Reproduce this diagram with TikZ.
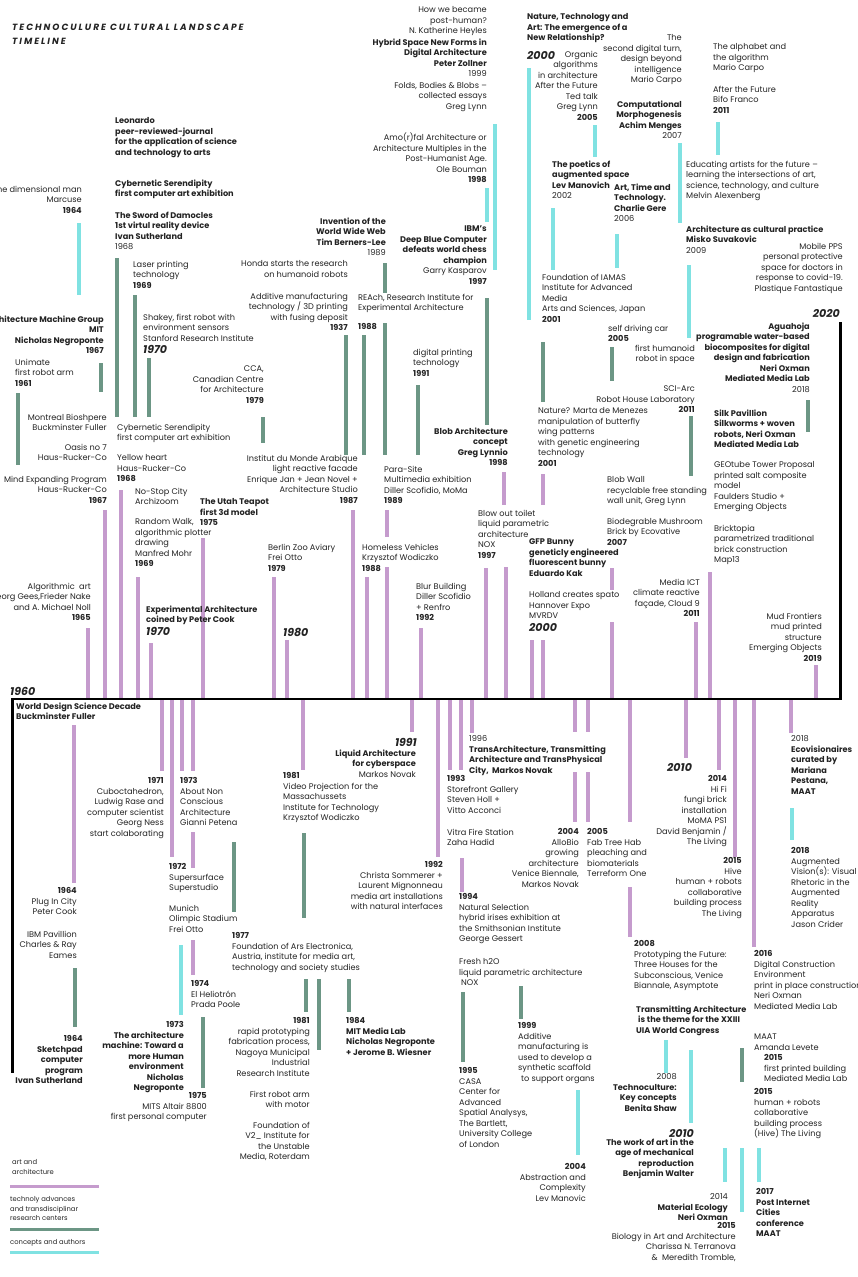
\documentclass[tikz,border=0pt]{standalone}
\usepackage{fontspec}
\setmainfont{Poppins}
\newfontfamily\titlefont[LetterSpace=22]{Poppins}
\definecolor{artc}{RGB}{197,155,205}
\definecolor{techc}{RGB}{108,150,133}
\definecolor{ideac}{RGB}{128,226,226}
\definecolor{ink}{RGB}{35,35,35}
\newcommand\evtext{\fontsize{8.2}{10.5}\selectfont}
\newcommand\yearfont{\fontsize{11}{12}\selectfont\bfseries\itshape}
\begin{document}
\begin{tikzpicture}[x=1pt, y=-1pt,
    lbl/.style={anchor=north west, yshift=7.35pt, align=left, inner sep=0pt, text=ink, font=\evtext, execute at begin node=\strut},
    rlbl/.style={anchor=north east, yshift=7.35pt, align=right, inner sep=0pt, text=ink, font=\evtext, execute at begin node=\strut},
    heavy/.style={font=\evtext\bfseries},
    yr/.style={inner sep=0pt, text=ink, font=\yearfont},
    art/.style={draw=artc, line width=3.6pt},
    tech/.style={draw=techc, line width=3.6pt},
    idea/.style={draw=ideac, line width=3.6pt},
    legendtxt/.style={anchor=north west, yshift=6.65pt, align=left, inner sep=0pt, text=ink, font=\fontsize{6.8}{9.5}\selectfont, execute at begin node=\strut},
  ]
    \useasboundingbox (0,0) rectangle (857,1277);

    % Title
    \node[anchor=base west, align=left, inner sep=0pt, text=ink, font=\titlefont\fontsize{9}{14}\selectfont\bfseries\itshape] (title) at (12,30) {TECHNOCULURE CULTURAL LANDSCAPE};
    \node[anchor=base west, inner sep=0pt, text=ink, font=\titlefont\fontsize{9}{14}\selectfont\bfseries\itshape] (title2) at (12,44) {TIMELINE};

    % Bars: art and architecture
    \foreach \x/\a/\b in {88/628/699, 105/510/699, 121/490/699, 138/577/699, 151/643/699, 203/538/699,
        274/577/699, 287/640/699, 353/510/699, 367/577/699, 387/510/537, 387/567/699, 421/628/699,
        504/472/505, 486/568/699, 506/567/699, 543/474/505, 532/640/699, 543/640/699, 612/568/590,
        612/622/699, 696/622/699, 710/572/699, 816/665/699,
        74/725/883, 162/699/771, 172/699/857, 182/699/771, 193/699/771, 193/832/868, 193/940/975,
        303/699/770, 412/699/732, 438/699/857, 450/699/770, 461/699/770, 462/858/892, 472/699/733,
        575/699/732, 575/772/822, 588/699/732, 588/772/822, 630/699/822, 630/887/937, 686/699/758,
        719/699/770, 735/699/857, 754/699/947, 791/699/733}
      \draw[art] (\x,\a) -- (\x,\b);

    % Bars: technology advances and research centers
    \foreach \x/\a/\b in {117/258/417, 135/295/417, 149/358/417, 101/363/392, 18/393/465, 263/417/443,
        346/335/455, 364/335/455, 385/263/293, 385/323/455, 418/385/455, 487/298/425, 543/342/402,
        612/347/381, 691/416/476, 808/400/432, 304/833/918, 234/842/912, 75/968/1027, 203/1017/1088,
        306/979/1012, 319/979/1050, 349/979/1012, 463/992/1062, 521/986/1019, 742/1048/1082}
      \draw[tech] (\x,\a) -- (\x,\b);

    % Bars: concepts and authors
    \foreach \x/\a/\b in {79/223/295, 495/124/270, 487/188/222, 529/68/320, 553/208/270, 595/125/157,
        617/234/268, 680/143/223, 718/122/155, 689/265/338, 792/808/840, 181/945/1015, 578/1090/1155,
        666/1040/1073, 691/1050/1123, 725/1148/1182, 742/1148/1212, 759/1148/1182}
      \draw[idea] (\x,\a) -- (\x,\b);

    % Time axis
    \coordinate (axisL) at (12,699);
    \coordinate (axisR) at (840,699);
    \coordinate (startEnd) at (12,1073);
    \coordinate (endTop) at (840,322);
    \draw[line width=1.3pt] (axisL) -- (axisR);
    \draw[line width=3pt] ([yshift=0.6pt]axisL) -- (startEnd);
    \draw[line width=3pt] ([yshift=-0.6pt]axisR) -- (endTop);
    \node[yr, anchor=base west] (y1960) at (10,695) {1960};
    \node[yr, anchor=base east] (y2020) at (840,317) {2020};

    % Above the axis, 1960s-1970s
    \node[rlbl] (marcuse) at (82,193) {one dimensional man\\Marcuse\\\textbf{1964}};
    \node[rlbl, heavy] (archmg) at (104,323) {Architecture Machine Group\\MIT\\Nicholas Negroponte\\1967};
    \node[lbl] (unimate) at (15,366) {Unimate\\first robot arm\\\textbf{1961}};
    \node[rlbl] (montreal) at (107,421) {Montreal Bioshpere\\Buckminster Fuller};
    \node[rlbl] (oasis) at (107,451) {Oasis no 7\\Haus-Rucker-Co};
    \node[rlbl] (mindexp) at (107,483) {Mind Expanding Program\\Haus-Rucker-Co\\\textbf{1967}};
    \node[rlbl] (algoart) at (91,590) {Algorithmic~~art\\Georg Gees,Frieder Nake\\and A. Michael Noll\\\textbf{1965}};
    \node[lbl, heavy] (leonardo) at (115,125) {Leonardo\\peer-reviewed-journal\\for the application of science\\and technology to arts};
    \node[lbl, heavy] (cybser1) at (115,187) {Cybernetic Serendipity\\first computer art exhibition};
    \node[lbl, heavy] (sword) at (115,219) {The Sword of Damocles\\1st virtul reality device\\Ivan Sutherland\\{\mdseries 1968}};
    \node[lbl] (laser) at (133,268) {Laser printing\\technology\\\textbf{1969}};
    \node[lbl] (shakey) at (143,321) {Shakey, first robot with\\environment sensors\\Stanford Research Institute\\[2pt]{\yearfont 1970}};
    \node[lbl] (cybser2) at (117,431) {Cybernetic Serendipity\\first computer art exhibition};
    \node[lbl] (yellow) at (117,462) {Yellow heart\\Haus-Rucker-Co\\\textbf{1968}};
    \node[lbl] (nostop) at (135,495) {No-Stop City\\Archizoom};
    \node[lbl] (randwalk) at (135,526) {Random Walk,\\algorithmic plotter\\drawing\\Manfred Mohr\\\textbf{1969}};
    \node[lbl, heavy] (teapot) at (200,506) {The Utah Teapot\\first 3d model\\1975};
    \node[lbl, heavy] (exparch) at (146,613) {Experimental Architecture\\coined by Peter Cook\\[2pt]{\yearfont 1970}};
    \node[rlbl] (cca) at (264,373) {CCA,\\Canadian Centre\\for Architecture\\\textbf{1979}};

    % Above the axis, 1980s-1990s
    \node[rlbl] (imarabe) at (358,462) {Institut du Monde Arabique\\light reactive facade\\Enrique Jan + Jean Novel +\\Architecture Studio\\\textbf{1987}};
    \node[lbl] (berlin) at (268,551) {Berlin Zoo Aviary\\Frei Otto\\\textbf{1979}};
    \node[yr, anchor=base west] (y1980) at (283,636) {1980};
    \node[rlbl] (honda) at (348,268) {Honda starts the research\\on humanoid robots};
    \node[rlbl] (additive) at (348,300) {Additive manufacturing\\technology / 3D printing\\with fusing deposit\\\textbf{1937}};
    \node[rlbl, heavy] (www) at (386,225) {Invention of the\\World Wide Web\\Tim Berners-Lee\\{\mdseries 1989}};
    \node[lbl] (reach) at (358,301) {REAch, Research Institute for\\Experimental Architecture\\[8pt]\textbf{1988}};
    \node[lbl] (digprint) at (413,356) {digital printing\\technology\\\textbf{1991}};
    \node[lbl] (parasite) at (384,473) {Para-Site\\Multimedia exhibition\\Diller Scofidio, MoMa\\\textbf{1989}};
    \node[lbl] (homeless) at (362,551) {Homeless Vehicles\\Krzysztof Wodiczko\\\textbf{1988}};
    \node[lbl] (blur) at (416,590) {Blur Building\\Diller Scofidio\\+ Renfro\\\textbf{1992}};
    \node[rlbl] (heyles) at (487,14) {How we became\\post-human?\\N. Katherine Heyles};
    \node[rlbl, heavy] (hybrid) at (487,46) {Hybrid Space New Forms in\\Digital Architecture\\Peter Zollner\\{\mdseries 1999}};
    \node[rlbl] (folds) at (487,89) {Folds, Bodies \& Blobs –\\collected essays\\Greg Lynn};
    \node[rlbl] (amorfal) at (487,140) {Amo(r)fal Architecture or\\Architecture Multiples in the\\Post-Humanist Age.\\Ole Bouman\\\textbf{1998}};
    \node[rlbl] (ibm) at (487,233) {\textbf{IBM's}\\\textbf{Deep Blue Computer}\\\textbf{defeats world chess}\\\textbf{champion}\\Garry Kasparov\\\textbf{1997}};
    \node[rlbl, heavy] (blobarch) at (508,435) {Blob Architecture\\concept\\Greg Lynnio\\1998};
    \node[lbl] (blowout) at (478,517) {Blow out toilet\\liquid parametric\\architecture\\NOX\\\textbf{1997}};

    % Above the axis, 2000s-2010s
    \node[lbl, heavy] (nature) at (527,21) {Nature, Technology and\\Art: The emergence of a\\New Relationship?};
    \node[yr, anchor=base west] (y2000a) at (527,59) {2000};
    \node[rlbl] (organic) at (598,58) {Organic\\algorithms\\in architecture\\After the Future\\Ted talk\\Greg Lynn\\\textbf{2005}};
    \node[lbl, heavy] (poetics) at (552,168) {The poetics of\\augmented space\\Lev Manovich\\{\mdseries 2002}};
    \node[lbl] (iamas) at (542,281) {Foundation of IAMAS\\Institute for Advanced\\Media\\Arts and Sciences, Japan\\\textbf{2001}};
    \node[lbl] (menezes) at (538,415) {Nature? Marta de Menezes\\manipulation of butterfly\\wing patterns\\with genetic engineering\\technology\\\textbf{2001}};
    \node[lbl, heavy] (gfp) at (529,546) {GFP Bunny\\geneticly engineered\\fluorescent bunny\\Eduardo Kak};
    \node[lbl] (holland) at (529,599) {Holland creates spato\\Hannover Expo\\MVRDV\\[2pt]{\yearfont 2000}};
    \node[rlbl] (carpo2) at (682,42) {The\\second digital turn,\\design beyond\\intelligence\\Mario Carpo};
    \node[rlbl, heavy] (menges) at (682,108) {Computational\\Morphogenesis\\Achim Menges\\{\mdseries 2007}};
    \node[lbl] (alphabet) at (713,51) {The alphabet and\\the algorithm\\Mario Carpo};
    \node[lbl] (bifo) at (713,93) {After the Future\\Bifo Franco\\\textbf{2011}};
    \node[lbl] (educating) at (686,168) {Educating artists for the future –\\learning the intersections of art,\\science, technology, and culture\\Melvin Alexenberg};
    \node[lbl, heavy] (gere) at (614,191) {Art, Time and\\Technology.\\Charlie Gere\\{\mdseries 2006}};
    \node[lbl] (suvakovic) at (686,233) {\textbf{Architecture as cultural practice}\\\textbf{Misko Suvakovic}\\2009};
    \node[rlbl] (mobile) at (843,250) {Mobile PPS\\personal protective\\space for doctors in\\response to covid-19.\\Plastique Fantastique};
    \node[lbl] (selfdrive) at (608,332) {self driving car\\\textbf{2005}};
    \node[rlbl] (humanoid) at (695,352) {first humanoid\\robot in space};
    \node[rlbl] (sciarc) at (695,393) {SCI-Arc\\Robot House Laboratory\\\textbf{2011}};
    \node[rlbl, heavy] (aguahoja) at (810,330) {Aguahoja\\programable water-based\\biocomposites for digital\\design and fabrication\\Neri Oxman\\Mediated Media Lab\\{\mdseries 2018}};
    \node[lbl, heavy] (silk) at (714,417) {Silk Pavillion\\Silkworms + woven\\robots, Neri Oxman\\Mediated Media Lab};
    \node[lbl] (geotube) at (714,469) {GEOtube Tower Proposal\\printed salt composite\\model\\Faulders Studio +\\Emerging Objects};
    \node[lbl] (blobwall) at (607,484) {Blob Wall\\recyclable free standing\\wall unit, Greg Lynn};
    \node[lbl] (mushroom) at (607,525) {Biodegrable Mushroom\\Brick by Ecovative\\\textbf{2007}};
    \node[lbl] (bricktopia) at (714,532) {Bricktopia\\parametrized traditional\\brick construction\\Map13};
    \node[rlbl] (mediaict) at (700,586) {Media ICT\\climate reactive\\façade, Cloud 9\\\textbf{2011}};
    \node[rlbl] (mud) at (822,620) {Mud Frontiers\\mud printed\\structure\\Emerging Objects\\\textbf{2019}};

    % Below the axis, 1960s-1980s
    \node[lbl, heavy] (wdsd) at (16,710) {World Design Science Decade\\Buckminster Fuller};
    \node[rlbl] (cubo) at (164,785) {\textbf{1971}\\Cuboctahedron,\\Ludwig Rase and\\computer scientist\\Georg Ness\\start colaborating};
    \node[lbl] (nonconscious) at (180,785) {\textbf{1973}\\About Non\\Conscious\\Architecture\\Gianni Petena};
    \node[lbl] (supersurf) at (169,871) {\textbf{1972}\\Supersurface\\Superstudio};
    \node[lbl] (munich) at (169,912) {Munich\\Olimpic Stadium\\Frei Otto};
    \node[rlbl] (plugin) at (77,895) {\textbf{1964}\\Plug In City\\Peter Cook};
    \node[rlbl] (ibmpav) at (77,938) {IBM Pavillion\\Charles \& Ray\\Eames};
    \node[lbl] (arselec) at (232,940) {\textbf{1977}\\Foundation of Ars Electronica,\\Austria, institute for media art,\\technology and society studies};
    \node[rlbl, heavy] (sketchpad) at (83,1043) {1964\\Sketchpad\\computer\\program\\Ivan Sutherland};
    \node[lbl] (heliotron) at (191,988) {\textbf{1974}\\El Heliotrón\\Prada Poole};
    \node[rlbl, heavy] (archmachine) at (184,1029) {1973\\The architecture\\machine: Toward a\\more Human\\environment\\Nicholas\\Negroponte};
    \node[rlbl] (altair) at (207,1100) {\textbf{1975}\\MITS Altair 8800\\first personal computer};
    \node[rlbl] (nagoya) at (310,1025) {\textbf{1981}\\rapid prototyping\\fabrication process,\\Nagoya Municipal\\Industrial\\Research Institute};
    \node[rlbl] (robotarm) at (310,1098) {First robot arm\\with motor};
    \node[rlbl] (v2) at (310,1129) {Foundation of\\V2\_ Institute for\\the Unstable\\Media, Roterdam};
    \node[lbl, heavy] (medialab) at (346,1025) {1984\\MIT Media Lab\\Nicholas Negroponte\\+ Jerome B. Wiesner};
    \node[lbl] (videoproj) at (283,780) {\textbf{1981}\\Video Projection for the\\Massachussets\\Institute for Technology\\Krzysztof Wodiczko};

    % Below the axis, 1990s-2000s
    \node[yr, anchor=base east] (y1991) at (417,746) {1991};
    \node[rlbl] (liquid) at (416,757) {\textbf{Liquid Architecture}\\\textbf{for cyberspace}\\Markos Novak};
    \node[lbl, heavy] (transarch) at (469,743) {{\mdseries 1996}\\TransArchitecture, Transmitting\\Architecture and TransPhysical\\City,~~Markos Novak};
    \node[lbl] (storefront) at (447,783) {\textbf{1993}\\Storefront Gallery\\Steven Holl +\\Vitto Acconci};
    \node[lbl] (vitra) at (447,836) {Vitra Fire Station\\Zaha Hadid};
    \node[rlbl] (sommerer) at (443,869) {\textbf{1992}\\Christa Sommerer +\\Laurent Mignonneau\\media art installations\\with natural interfaces};
    \node[lbl] (natsel) at (459,901) {\textbf{1994}\\Natural Selection\\hybrid irises exhibition at\\the Smithsonian Institute\\George Gessert};
    \node[lbl] (freshh2o) at (459,966) {Fresh h2O\\liquid parametric architecture\\\hspace{2pt}NOX};
    \node[lbl] (casa) at (459,1075) {\textbf{1995}\\CASA\\Center for\\Advanced\\Spatial Analysys,\\The Bartlett,\\University College\\of London};
    \node[lbl] (additive99) at (518,1030) {\textbf{1999}\\Additive\\manufacturing is\\used to develop a\\synthetic scaffold\\\hspace{3pt}to support organs};
    \node[rlbl] (manovic) at (586,1171) {\textbf{2004}\\Abstraction and\\Complexity\\Lev Manovic};
    \node[rlbl] (allobio) at (579,836) {\textbf{2004}\\AlloBio\\growing\\architecture\\Venice Biennale,\\Markos Novak};
    \node[lbl] (fabtree) at (587,836) {\textbf{2005}\\Fab Tree Hab\\pleaching and\\biomaterials\\Terreform One};

    % Below the axis, 2000s-2010s
    \node[yr, anchor=base west] (y2010a) at (667,771) {2010};
    \node[rlbl] (hifi) at (727,783) {\textbf{2014}\\Hi Fi\\fungi brick\\installation\\MoMA PS1\\David Benjamin /\\The Living};
    \node[rlbl] (hive) at (742,865) {\textbf{2015}\\Hive\\human + robots\\collaborative\\building process\\The Living};
    \node[lbl, heavy] (ecovis) at (791,743) {{\mdseries 2018}\\Ecovisionaires\\curated by\\Mariana\\Pestana,\\MAAT};
    \node[lbl] (augmented) at (791,855) {\textbf{2018}\\Augmented\\Vision(s): Visual\\Rhetoric in the\\Augmented\\Reality\\Apparatus\\Jason Crider};
    \node[lbl] (asymptote) at (634,948) {\textbf{2008}\\Prototyping the Future:\\Three Houses for the\\Subconscious, Venice\\Biannale, Asymptote};
    \node[lbl, heavy] (uia) at (636,1013) {Transmitting Architecture\\\hspace{2pt}is the theme for the XXIII\\UIA World Congress};
    \node[rlbl, heavy] (shaw) at (677,1081) {{\mdseries 2008}\\Technoculture:\\Key concepts\\Benita Shaw};
    \node[yr, anchor=base east] (y2010b) at (694,1137) {2010};
    \node[rlbl, heavy] (benjamin) at (694,1146) {The work of art in the\\age of mechanical\\reproduction\\Benjamin Walter};
    \node[rlbl, heavy] (matecol) at (728,1201) {{\mdseries 2014}\\Material Ecology\\Neri Oxman};
    \node[lbl, heavy] (postinternet) at (756,1196) {2017\\Post Internet\\Cities\\conference\\MAAT};
    \node[rlbl] (biology) at (736,1230) {\textbf{2015}\\Biology in Art and Architecture\\Charissa N. Terranova\\\&~~Meredith Tromble,};
    \node[lbl] (digconst) at (754,958) {\textbf{2016}\\Digital Construction\\Environment\\print in place construction\\Neri Oxman\\Mediated Media Lab};
    \node[lbl] (maat) at (754,1041) {MAAT\\Amanda Levete};
    \node[lbl] (printed) at (764,1062) {\textbf{2015}\\first printed building\\Mediated Media Lab};
    \node[lbl] (hiverobots) at (754,1096) {\textbf{2015}\\human + robots\\collaborative\\building process\\(Hive) The Living};

    % Legend
    \node[legendtxt] (keyart) at (12,1166) {art and\\architecture};
    \node[legendtxt] (keytech) at (10,1203) {technoly advances\\and transdisciplinar\\research centers};
    \node[legendtxt] (keyidea) at (10,1244) {concepts and authors};
    \draw[draw=artc, line width=3pt] (10,1186) -- (99,1186);
    \draw[draw=techc, line width=3pt] (10,1229) -- (99,1229);
    \draw[draw=ideac, line width=3pt] (10,1252) -- (99,1252);
  \end{tikzpicture}
\end{document}
